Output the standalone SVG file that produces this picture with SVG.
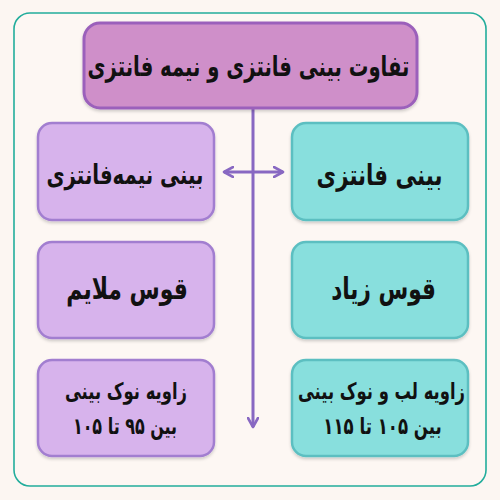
<svg xmlns="http://www.w3.org/2000/svg" width="500" height="500" viewBox="0 0 500 500">
<defs>
<filter id="sh" x="-10%" y="-10%" width="120%" height="130%">
<feDropShadow dx="0" dy="2" stdDeviation="1.5" flood-color="#000" flood-opacity="0.18"/>
</filter>
<marker id="chev" viewBox="0 0 12 12" refX="10" refY="6" markerWidth="12" markerHeight="12" markerUnits="userSpaceOnUse" orient="auto-start-reverse">
<path d="M1,1 L10,6 L1,11" fill="none" stroke="#8868c2" stroke-width="2.6" stroke-linecap="round" stroke-linejoin="round"/>
</marker>
</defs>
<style>
text{font-family:"DejaVu Sans","Noto Sans",sans-serif;font-weight:bold;fill:#111;text-anchor:middle;direction:rtl}
.lav{fill:#d7b3ec;stroke:#a27ed0;stroke-width:2.5}
.teal{fill:#88dfdd;stroke:#5cbfc1;stroke-width:2.5}
.conn{stroke:#8868c2;stroke-width:3;fill:none}
</style>
<rect x="0" y="0" width="500" height="500" fill="#fcf6f2"/>
<rect x="14" y="13" width="472" height="473" rx="16" fill="#fdf7f3" stroke="#22ad9c" stroke-width="1.6"/>
<g id="connectors">
<line class="conn" x1="253" y1="108" x2="253" y2="427" marker-end="url(#chev)"/>
<line class="conn" x1="224" y1="172" x2="283" y2="172" marker-start="url(#chev)" marker-end="url(#chev)"/>
</g>
<g id="title">
<rect x="84" y="23" width="333" height="85" rx="16" fill="#cf8fc9" stroke="#9b61bb" stroke-width="3" filter="url(#sh)"/>
<text transform="translate(248.5,76) scale(0.7,1)" font-size="28">تفاوت بینی فانتزی و نیمه فانتزی</text>
</g>
<g id="semi">
<rect class="lav" x="38" y="123" width="176" height="97" rx="14" filter="url(#sh)"/>
<text transform="translate(125,184) scale(0.73,1)" font-size="27">بینی نیمه‌فانتزی</text>
</g>
<g id="fancy">
<rect class="teal" x="292" y="123" width="176" height="97" rx="14" filter="url(#sh)"/>
<text transform="translate(379.5,185) scale(0.735,1)" font-size="29">بینی فانتزی</text>
</g>
<g id="soft-arc">
<rect class="lav" x="38" y="242" width="176" height="96" rx="14" filter="url(#sh)"/>
<text transform="translate(127,299) scale(0.73,1)" font-size="30">قوس ملایم</text>
</g>
<g id="high-arc">
<rect class="teal" x="292" y="242" width="176" height="96" rx="14" filter="url(#sh)"/>
<text transform="translate(383.5,299) scale(0.72,1)" font-size="30">قوس زیاد</text>
</g>
<g id="semi-angle">
<rect class="lav" x="38" y="360" width="176" height="96" rx="14" filter="url(#sh)"/>
<text transform="translate(126,399) scale(0.712,1)" font-size="23">زاویه نوک بینی</text>
<text transform="translate(125,434) scale(0.694,1)" font-size="23">بین ۹۵ تا ۱۰۵</text>
</g>
<g id="fancy-angle">
<rect class="teal" x="292" y="360" width="176" height="96" rx="14" filter="url(#sh)"/>
<text transform="translate(381.5,399) scale(0.712,1)" font-size="23">زاویه لب و نوک بینی</text>
<text transform="translate(382.5,434) scale(0.721,1)" font-size="23">بین ۱۰۵ تا ۱۱۵</text>
</g>
</svg>
